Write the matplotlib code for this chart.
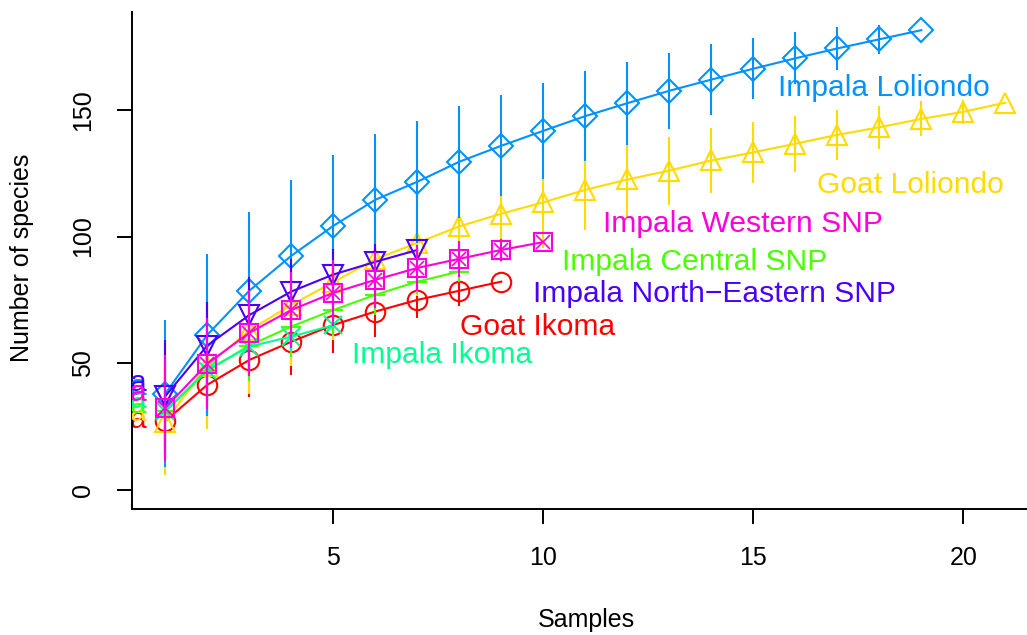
import matplotlib
matplotlib.use("Agg")
import matplotlib.pyplot as plt

plt.rcParams.update({
    "font.family": ["Liberation Sans", "DejaVu Sans"],
    "font.size": 18,
})

# species accumulation: mean and sd per number of samples
goat_ikoma_mean = [27.2, 41.5, 51.3, 58.5, 65.1, 70.4, 75.0, 78.6, 82.2]
goat_ikoma_sd = [14, 15, 14.5, 13, 11, 10, 7, 6, 0]

goat_loliondo_mean = [27, 49, 63, 73, 82, 91, 97.5, 104, 109, 113.5, 118.4,
                      122.5, 126, 130, 133.2, 136.6, 140.1, 143.1, 146.4, 149.2, 152.8]
goat_loliondo_sd = [21, 25, 25, 24, 23, 22, 21, 20, 19, 18, 16,
                    15, 13.4, 12.8, 12, 11.1, 9.9, 8.5, 6.9, 4.8, 0]

central_mean = [31, 47, 57, 64.5, 71, 77, 82.2, 86.2]
central_sd = [16, 16, 14, 12, 10, 8, 5, 0]

impala_ikoma_mean = [31, 47.4, 56.6, 60.5, 65]
impala_ikoma_sd = [14, 12, 10, 6, 0]

impala_loliondo_mean = [38, 61.2, 78.6, 92.4, 104.2, 114.5, 121.6, 129.5, 135.8, 141.7,
                        147.5, 152.6, 157.5, 161.9, 166.2, 170.3, 174.2, 177.8, 181.4]
impala_loliondo_sd = [29, 32, 31, 30, 28, 26, 24, 22, 20, 19,
                      17.7, 16.3, 15, 14, 12, 10.3, 8.4, 5.8, 0]

ne_mean = [37, 57, 69, 78.3, 85, 90, 94.7]
ne_sd = [22, 17, 15, 13, 10, 7, 0]

western_mean = [32.4, 49.8, 62, 71, 77.8, 82.9, 87.6, 91.2, 94.7, 97.8]
western_sd = [21, 18, 17, 15, 13, 11, 9, 7, 4.5, 0]

names = ["Goat Ikoma", "Goat Loliondo", "Impala Central SNP", "Impala Ikoma",
         "Impala Loliondo", "Impala North\u2212Eastern SNP", "Impala Western SNP"]
means = [goat_ikoma_mean, goat_loliondo_mean, central_mean, impala_ikoma_mean,
         impala_loliondo_mean, ne_mean, western_mean]
sds = [goat_ikoma_sd, goat_loliondo_sd, central_sd, impala_ikoma_sd,
       impala_loliondo_sd, ne_sd, western_sd]

# R rainbow(7)
colors = ["#FF0000", "#FFDB00", "#49FF00", "#00FF92", "#0092FF", "#4900FF", "#FF00DB"]
markers = ["o", "^", "+", "x", "D", "v", "s"]
msizes = [14, 15, 15, 13, 12, 15, 13]

label_pos = [(9.86, 64.3), (18.73, 120.4), (13.6, 90), (7.59, 53.3),
             (18.11, 158.7), (14.07, 77.4), (14.75, 105)]
stub_y = [27.6, 30.4, 33.6, 35.5, 40.7, 42.2, 38.3]

fig = plt.figure(figsize=(10.27, 6.35), dpi=100)
ax = fig.add_axes([0.1282, 0.1980, 0.8718, 0.7836])

for i in range(len(names)):
    m = means[i]
    s = sds[i]
    x = list(range(1, len(m) + 1))
    c = colors[i]
    ax.vlines(x, [a - b for a, b in zip(m, s)], [a + b for a, b in zip(m, s)],
              color=c, lw=1.5, zorder=2 + i)
    ax.plot(x, m, color=c, lw=1.5, marker=markers[i], ms=msizes[i],
            mfc="none", mec=c, mew=1.5, zorder=2 + i)
    if markers[i] == "s":
        ax.plot(x, m, ls="none", marker="x", ms=msizes[i] * 0.75, mec=c, mew=1.2, zorder=2 + i)
    ax.text(label_pos[i][0], label_pos[i][1], names[i], color=c, fontsize=21.6,
            ha="center", va="center", zorder=20)
    ax.text(0.56, stub_y[i], "a", color=c, fontsize=21.6, ha="right", va="center",
            clip_on=True, zorder=2 + i)

ax.set_xlim(0.2, 21.516)
ax.set_ylim(-7.6, 188.7)
ax.spines["top"].set_visible(False)
ax.spines["right"].set_visible(False)
ax.spines["left"].set_linewidth(1.4)
ax.spines["bottom"].set_linewidth(1.4)
ax.set_xticks([5, 10, 15, 20])
ax.set_yticks([0, 50, 100, 150])
ax.tick_params(axis="both", length=10.5, width=1.4, labelsize=18, pad=16)
for lab in ax.get_yticklabels():
    lab.set_rotation(90)
    lab.set_va("center")

fig.text(586 / 1027, 1 - 620 / 635, "Samples", ha="center", va="center", fontsize=18)
fig.text(22 / 1027, 1 - 258 / 635, "Number of species", ha="center", va="center",
         fontsize=18, rotation=90)

fig.savefig("out.png", dpi=100)
